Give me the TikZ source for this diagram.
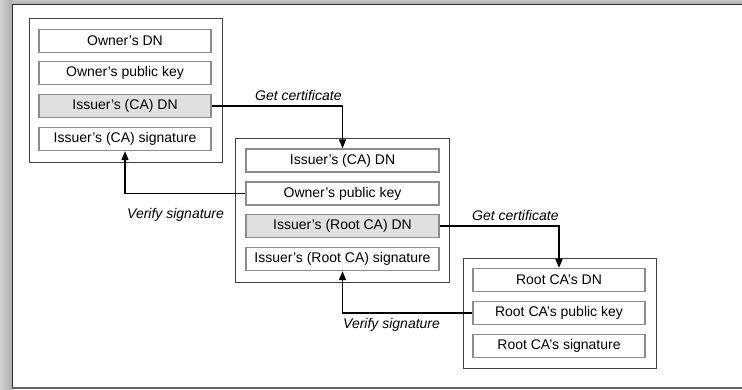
\documentclass[tikz,border=0pt]{standalone}
\usepackage{fontspec}
\setmainfont{Liberation Sans}
\usetikzlibrary{arrows.meta}
\definecolor{framegray}{gray}{0.25}
\definecolor{cellline}{gray}{0.55}
\definecolor{cellfill}{gray}{0.88}
\tikzset{
  holder/.style={draw=framegray, line width=0.8pt, fill=white, inner sep=0pt},
  cell/.style={draw=cellline, line width=1.3pt, fill=white, inner sep=0pt,
    minimum height=23pt, font=\fontsize{14}{16}\selectfont},
  keycell/.style={cell, fill=cellfill},
  link/.style={line width=1.6pt, -{Triangle[width=7pt,length=9pt]}},
  tag/.style={font=\fontsize{14}{16}\selectfont\itshape, inner sep=0pt}
}
\begin{document}
\begin{tikzpicture}[x=1pt,y=-1pt]
\useasboundingbox (0,0) rectangle (742,389);
% page frame with shadow bands
\fill[white] (12,4) rectangle (742,389);
\shade[left color=black!18, right color=black!32] (0,0) rectangle (12,389);
\shade[top color=black!22, bottom color=black!32] (12,0) rectangle (742,4);
\draw[line width=1.6pt, black!80] (12.5,389) -- (12.5,4.5) -- (742,4.5);
\draw[line width=1.2pt, black!60] (12,388) -- (742,388);

% end-entity certificate
\node[holder, minimum width=193pt, minimum height=144pt] (c1) at (125.5,90) {};
\node[cell, minimum width=172pt] (c1dn)  at (125,41)  {Owner’s DN};
\node[cell, minimum width=172pt] (c1pk)  at (125,73)  {Owner’s public key};
\node[keycell, minimum width=172pt] (c1is) at (125,106) {Issuer’s (CA) DN};
\node[cell, minimum width=172pt] (c1sg)  at (125,139) {Issuer’s (CA) signature};

% intermediate CA certificate
\node[holder, minimum width=214pt, minimum height=144pt] (c2) at (342,210) {};
\node[cell, minimum width=193pt] (c2dn)  at (342.5,160.5) {Issuer’s (CA) DN};
\node[cell, minimum width=193pt] (c2pk)  at (342.5,193.5) {Owner’s public key};
\node[keycell, minimum width=193pt] (c2is) at (342.5,226) {Issuer’s (Root CA) DN};
\node[cell, minimum width=193pt] (c2sg)  at (342.5,259) {Issuer’s (Root CA) signature};

% root CA certificate
\node[holder, minimum width=193pt, minimum height=110pt] (c3) at (559.5,313) {};
\node[cell, minimum width=172pt] (c3dn) at (559,280) {Root CA’s DN};
\node[cell, minimum width=172pt] (c3pk) at (559,313) {Root CA’s public key};
\node[cell, minimum width=172pt] (c3sg) at (559,346) {Root CA’s signature};

% chain links
\draw[link] (c1is.east) -| (c2dn.north);
\draw[link] (c2pk.west) -| (c1sg.south);
\draw[link] (c2is.east) -| (c3dn.north);
\draw[link] (c3pk.west) -| (c2sg.south);

% link labels
\node[tag, anchor=west] (g1) at (255,95)  {Get certificate};
\node[tag, anchor=west] (v1) at (127,215) {Verify signature};
\node[tag, anchor=west] (g2) at (472,215) {Get certificate};
\node[tag, anchor=west] (v2) at (343,325) {Verify signature};
\end{tikzpicture}
\end{document}
